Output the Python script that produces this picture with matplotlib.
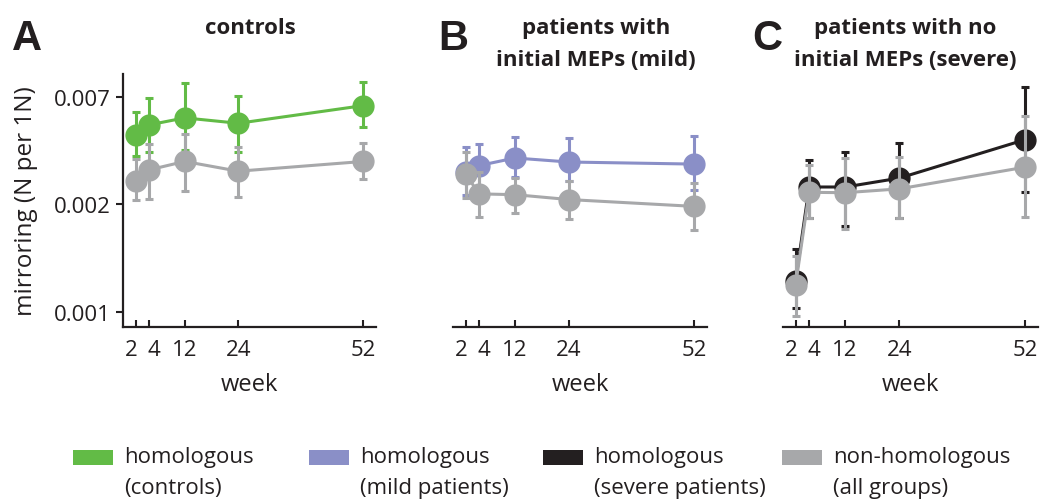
import numpy as np
import matplotlib
matplotlib.use("Agg")
import matplotlib.pyplot as plt
from matplotlib.patches import Rectangle
from matplotlib.transforms import ScaledTranslation

plt.rcParams['font.family'] = ['Open Sans', 'DejaVu Sans']

# ---------------- data ----------------
week_labels = ['2', '4', '12', '24', '52']
week_x = [1, 4, 12, 24, 52]

# panel A: controls
ctrl_hom = [0.00472, 0.00518, 0.00553, 0.00526, 0.00620]
ctrl_hom_lo = [0.00387, 0.00404, 0.00412, 0.00404, 0.00507]
ctrl_hom_hi = [0.00583, 0.00664, 0.00763, 0.00676, 0.00770]
ctrl_non = [0.00309, 0.00341, 0.00369, 0.00337, 0.00369]
ctrl_non_lo = [0.00257, 0.00261, 0.00280, 0.00266, 0.00314]
ctrl_non_hi = [0.00378, 0.00432, 0.00477, 0.00421, 0.00438]

# panel B: mild patients
mild_hom = [0.00334, 0.00355, 0.00381, 0.00367, 0.00360]
mild_hom_lo = [0.00271, 0.00286, 0.00319, 0.00307, 0.00282]
mild_hom_hi = [0.00421, 0.00434, 0.00465, 0.00458, 0.00469]
mild_non = [0.00329, 0.00273, 0.00271, 0.00259, 0.00243]
mild_non_lo = [0.00262, 0.00221, 0.00229, 0.00216, 0.00196]
mild_non_hi = [0.00402, 0.00334, 0.00317, 0.00307, 0.00302]

# panel C: severe patients
sev_hom = [0.00122, 0.00291, 0.00291, 0.00316, 0.00452]
sev_hom_lo = [0.00095, 0.00218, 0.00203, 0.00218, 0.00277]
sev_hom_hi = [0.00164, 0.00375, 0.00402, 0.00437, 0.00735]
sev_non = [0.00117, 0.00277, 0.00276, 0.00286, 0.00350]
sev_non_lo = [0.00088, 0.00218, 0.00197, 0.00218, 0.00221]
sev_non_hi = [0.00154, 0.00357, 0.00381, 0.00384, 0.00562]

y_tick_vals = [np.exp(-7), np.exp(-6), np.exp(-5)]
y_tick_labels = ['0.001', '0.002', '0.007']

titles = ['controls', 'patients with\ninitial MEPs (mild)', 'patients with no\ninitial MEPs (severe)']
letters = ['A', 'B', 'C']
legend_labels = ['homologous\n(controls)', 'homologous\n(mild patients)',
                 'homologous\n(severe patients)', 'non-homologous\n(all groups)']

GREEN = '#62bb46'
BLUE = '#8a8fc7'
BLACK = '#231f20'
GRAY = '#a7a8aa'
AX = '#231f20'

W, H = 1041, 502
fig = plt.figure(figsize=(W / 100, H / 100), dpi=100)

def fx(px):
    return px / W

def fy(py):
    return 1 - py / H

axes_px = [(123, 376), (453, 707), (783, 1038)]
top_px, bot_px = 75, 328

panels = [
    ((ctrl_hom, ctrl_hom_lo, ctrl_hom_hi, GREEN), (ctrl_non, ctrl_non_lo, ctrl_non_hi, GRAY)),
    ((mild_hom, mild_hom_lo, mild_hom_hi, BLUE), (mild_non, mild_non_lo, mild_non_hi, GRAY)),
    ((sev_hom, sev_hom_lo, sev_hom_hi, BLACK), (sev_non, sev_non_lo, sev_non_hi, GRAY)),
]

title_centers = [250, 596, 905]
letter_x = [12, 438, 752]
label_shift_px = [-4.5, 4.5, 0, 0, 0]

for i, ((l, r), series) in enumerate(zip(axes_px, panels)):
    ax = fig.add_axes([fx(l), fy(bot_px), fx(r - l), (bot_px - top_px) / H])
    ax.set_yscale('log')
    for z, (m, lo, hi, col) in enumerate(series):
        m = np.array(m); lo = np.array(lo); hi = np.array(hi)
        ax.errorbar(week_x, m, yerr=[m - lo, hi - m], color=col, lw=2.2,
                    elinewidth=2.2, capsize=3, capthick=2.2, marker='o',
                    markersize=15, markerfacecolor=col, markeredgecolor=col,
                    zorder=3 + z)
    ax.set_xlim(-1.8, 54.8)
    ax.set_ylim(np.exp(-7.14), np.exp(-4.79))
    ax.set_xticks(week_x)
    ax.set_xticklabels(week_labels)
    ax.minorticks_off()
    for s in ['top', 'right']:
        ax.spines[s].set_visible(False)
    ax.spines['bottom'].set_color(AX)
    ax.spines['bottom'].set_linewidth(1.6)
    ax.tick_params(axis='x', direction='in', length=5, width=1.5, color=AX,
                   labelsize=16, labelcolor=AX, pad=9)
    for lab, dx in zip(ax.get_xticklabels(), label_shift_px):
        lab.set_transform(lab.get_transform() +
                          ScaledTranslation(dx / 100, 0, fig.dpi_scale_trans))
    if i == 0:
        ax.spines['left'].set_color(AX)
        ax.spines['left'].set_linewidth(1.6)
        ax.set_yticks(y_tick_vals)
        ax.set_yticklabels(y_tick_labels)
        ax.tick_params(axis='y', direction='out', length=5, width=1.5, color=AX,
                       labelsize=16, labelcolor=AX, pad=4)
        ax.set_ylabel('mirroring (N per 1N)', fontsize=17.5, color=AX, labelpad=11)
    else:
        ax.spines['left'].set_visible(False)
        ax.set_yticks([])
    ax.set_xlabel('week', fontsize=17, color=AX, labelpad=8)
    fig.text(fx(title_centers[i]), fy(18), titles[i], ha='center', va='top',
             fontsize=16, fontweight='bold', color=AX, linespacing=1.7)
    fig.text(fx(letter_x[i]), fy(50), letters[i], ha='left', va='baseline',
             fontsize=30, fontweight='bold', color=AX,
             family=['Liberation Sans', 'DejaVu Sans'])

# legend
leg_x = [73, 309, 543, 782]
leg_cols = [GREEN, BLUE, BLACK, GRAY]
for x0, col, lab in zip(leg_x, leg_cols, legend_labels):
    fig.add_artist(Rectangle((fx(x0), fy(466)), fx(40), 15 / H, color=col,
                             transform=fig.transFigure, lw=0))
    fig.text(fx(x0 + 51), fy(447), lab, ha='left', va='top', fontsize=16,
             color=AX, linespacing=1.6)

fig.savefig('out.png', dpi=100)
